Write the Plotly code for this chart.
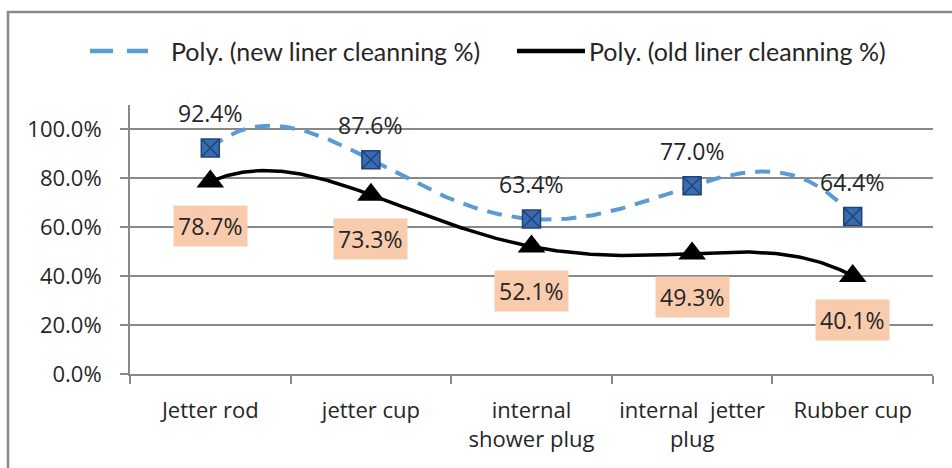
import numpy as np
import plotly.graph_objects as go

categories = ["Jetter rod", "jetter cup", "internal<br>shower plug", "internal  jetter<br>plug", "Rubber cup"]
new_liner = [0.924, 0.876, 0.634, 0.770, 0.644]
old_liner = [0.787, 0.733, 0.521, 0.493, 0.401]
y_ticks = [0.0, 0.2, 0.4, 0.6, 0.8, 1.0]
legend_names = ["Poly. (new liner cleanning %)", "Poly. (old liner cleanning %)"]

W, H = 952, 468
ML, MR, MT, MB = 130, 19, 105, 94
PW, PH = W - ML - MR, H - MT - MB

def px_x(x):
    return (x - ML) / PW

def px_y(y):
    return (H - MB - y) / PH

pos = np.arange(1, len(categories) + 1)
xs = np.linspace(1, len(categories), 300)
fit_new = np.polyval(np.polyfit(pos, new_liner, 4), xs)
fit_old = np.polyval(np.polyfit(pos, old_liner, 4), xs)

BLUE = "#5B9BD5"
GRID = "#898989"
TXT = "#262626"

fig = go.Figure()
fig.add_trace(go.Scatter(x=xs, y=fit_new, mode="lines", name=legend_names[0],
                         line=dict(color=BLUE, width=4, dash="15px,10px"), hoverinfo="skip"))
fig.add_trace(go.Scatter(x=xs, y=fit_old, mode="lines", name=legend_names[1],
                         line=dict(color="black", width=3.5), hoverinfo="skip"))
fig.add_trace(go.Scatter(x=pos, y=new_liner, mode="markers", showlegend=False,
                         marker=dict(symbol="square-x", size=18, color="#3A6AB0",
                                     line=dict(color="#1F4478", width=1.5))))
fig.add_trace(go.Scatter(x=pos, y=old_liner, mode="markers", showlegend=False,
                         marker=dict(symbol="triangle-up", size=24, color="black",
                                     line=dict(width=0))))

ann = []
for p, v in zip(pos, new_liner):
    ann.append(dict(x=p, y=v, xref="x", yref="y", text=f"{v*100:.1f}%", showarrow=False,
                    yshift=35, font=dict(family="Open Sans", size=23, color="#262626")))
for p, v in zip(pos, old_liner):
    ann.append(dict(x=p, y=v, xref="x", yref="y", text=f"{v*100:.1f}%", showarrow=False,
                    yshift=-44, bgcolor="#F8CBAD", borderpad=4,
                    font=dict(family="Open Sans", size=23, color="#262626")))

# custom legend
ann.append(dict(x=px_x(169), y=px_y(51), xref="paper", yref="paper", text=legend_names[0],
                showarrow=False, xanchor="left", yanchor="middle",
                font=dict(family="Lato", size=25, color="#262626")))
ann.append(dict(x=px_x(587), y=px_y(51), xref="paper", yref="paper", text=legend_names[1],
                showarrow=False, xanchor="left", yanchor="middle",
                font=dict(family="Lato", size=25, color="#262626")))

shapes = [
    dict(type="line", xref="paper", yref="paper", x0=px_x(90), x1=px_x(148), y0=px_y(51), y1=px_y(51),
         line=dict(color=BLUE, width=4.5, dash="23px,14px")),
    dict(type="line", xref="paper", yref="paper", x0=px_x(517), x1=px_x(585), y0=px_y(51), y1=px_y(51),
         line=dict(color="black", width=4.5)),
    dict(type="rect", xref="paper", yref="paper", x0=px_x(8), x1=px_x(1000), y0=px_y(12), y1=px_y(520),
         line=dict(color=GRID, width=2.5), fillcolor="rgba(0,0,0,0)", layer="below"),
]

fig.update_layout(
    width=W, height=H, margin=dict(l=ML, r=MR, t=MT, b=MB),
    paper_bgcolor="white", plot_bgcolor="white", showlegend=False,
    annotations=ann, shapes=shapes,
    xaxis=dict(range=[0.5, len(categories) + 0.5], tickvals=list(pos), ticktext=categories,
               ticks="", showgrid=False, zeroline=False, showline=True, linecolor=GRID, linewidth=2,
               tickfont=dict(family="Open Sans", size=22, color=TXT), ticklabelstandoff=16,
               minor=dict(tickvals=list(np.arange(0.5, len(categories) + 1, 1.0)), ticks="outside",
                          ticklen=8, tickwidth=2, tickcolor=GRID, showgrid=False)),
    yaxis=dict(range=[0, 1.1], tickvals=y_ticks, tickformat=".1%", ticks="outside", ticklen=8,
               tickwidth=2, tickcolor=GRID, showgrid=True, gridcolor=GRID, gridwidth=2,
               zeroline=False, showline=True, linecolor=GRID, linewidth=2,
               tickfont=dict(family="Open Sans", size=22, color=TXT), ticklabelstandoff=14),
)

fig.write_html("out.html", config={"displayModeBar": False},
               post_script="document.body.style.margin='0';document.body.style.overflow='hidden';")
